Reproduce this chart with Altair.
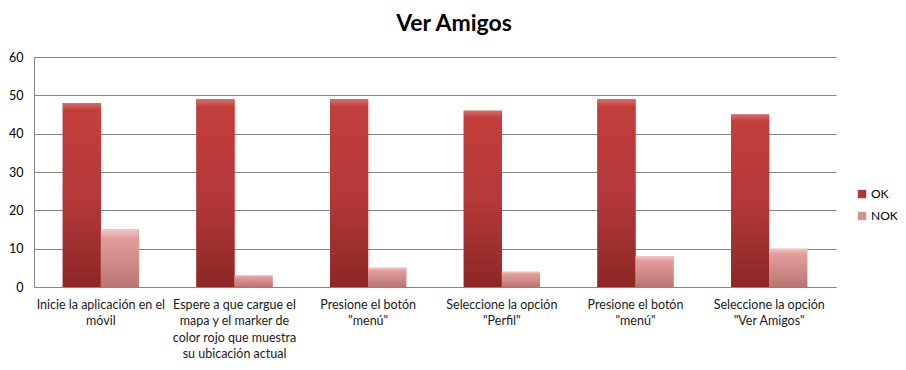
import json
import altair as alt
import pandas as pd

steps = [1, 2, 3, 4, 5, 6]
step_labels = [
    ["Inicie la aplicación en el", "móvil"],
    ["Espere a que cargue el", "mapa y el marker de", "color rojo que muestra", "su ubicación actual"],
    ["Presione el botón", "\"menú\""],
    ["Seleccione la opción", "\"Perfil\""],
    ["Presione el botón", "\"menú\""],
    ["Seleccione la opción", "\"Ver Amigos\""],
]
series = ["OK", "NOK"]
ok_values = [48, 49, 49, 46, 49, 45]
nok_values = [15, 3, 5, 4, 8, 10]
y_ticks = [0, 10, 20, 30, 40, 50, 60]

rows = []
for s, o, n in zip(steps, ok_values, nok_values):
    rows.append({"step": s, "serie": "OK", "value": o})
    rows.append({"step": s, "serie": "NOK", "value": n})
df = pd.DataFrame(rows)

FONT = "Lato"
label_expr = json.dumps(step_labels, ensure_ascii=False) + "[toNumber(datum.value) - 1]"

grad_ok = alt.Gradient(
    gradient="linear", x1=0, y1=0, x2=0, y2=1,
    stops=[alt.GradientStop(color="#E06A66", offset=0),
           alt.GradientStop(color="#C23E3B", offset=0.04),
           alt.GradientStop(color="#B5383A", offset=0.5),
           alt.GradientStop(color="#8C2826", offset=1)])
grad_nok = alt.Gradient(
    gradient="linear", x1=0, y1=0, x2=0, y2=1,
    stops=[alt.GradientStop(color="#F4C4C3", offset=0),
           alt.GradientStop(color="#E29C9B", offset=0.15),
           alt.GradientStop(color="#D38E8C", offset=0.5),
           alt.GradientStop(color="#B87573", offset=1)])

x_enc = alt.X(
    "step:O",
    title=None,
    scale=alt.Scale(paddingInner=0.43, paddingOuter=0.215),
    axis=alt.Axis(labelAngle=0, labelExpr=label_expr, ticks=False,
                  domainColor="#868686", labelPadding=11, labelFont=FONT,
                  labelFontSize=12.5, labelColor="#1a1a1a", labelLineHeight=16.5,
                  labelBaseline="top"),
)
y_enc = alt.Y(
    "value:Q",
    title=None,
    scale=alt.Scale(domain=[0, 60]),
    axis=alt.Axis(values=y_ticks, ticks=False, domainColor="#868686",
                  gridColor="#868686", labelPadding=11, labelFont=FONT,
                  labelFontSize=12.5, labelColor="#000000"),
)
xo = alt.XOffset("serie:N", scale=alt.Scale(domain=series, paddingInner=0))

base = alt.Chart(df).mark_bar().encode(
    x=x_enc, y=y_enc, xOffset=xo,
    color=alt.Color("serie:N",
                    scale=alt.Scale(domain=series, range=["#B8312F", "#D9918F"]),
                    legend=alt.Legend(title=None, orient="none", legendX=822,
                                      legendY=131, symbolType="square",
                                      symbolSize=70, labelFont=FONT,
                                      labelFontSize=12, rowPadding=10,
                                      labelOffset=3,
                                      labelColor="#000000", symbolStrokeWidth=0)),
)

overlay = alt.Chart(df).mark_bar().encode(
    x=x_enc, y=y_enc, xOffset=xo,
    fill=alt.condition(alt.datum.serie == "OK", alt.value(grad_ok), alt.value(grad_nok)),
)

chart = alt.layer(base, overlay).properties(
    width=802, height=230,
    title=alt.TitleParams("Ver Amigos", font=FONT, fontSize=23, fontWeight="bold",
                          color="#000000", anchor="middle", dx=19, offset=15),
    autosize=alt.AutoSizeParams(type="none"),
    padding={"left": 26, "top": 49, "right": 62, "bottom": 75},
).configure_view(stroke=None)

chart.save("out.html", embed_options={"renderer": "svg", "actions": False})
